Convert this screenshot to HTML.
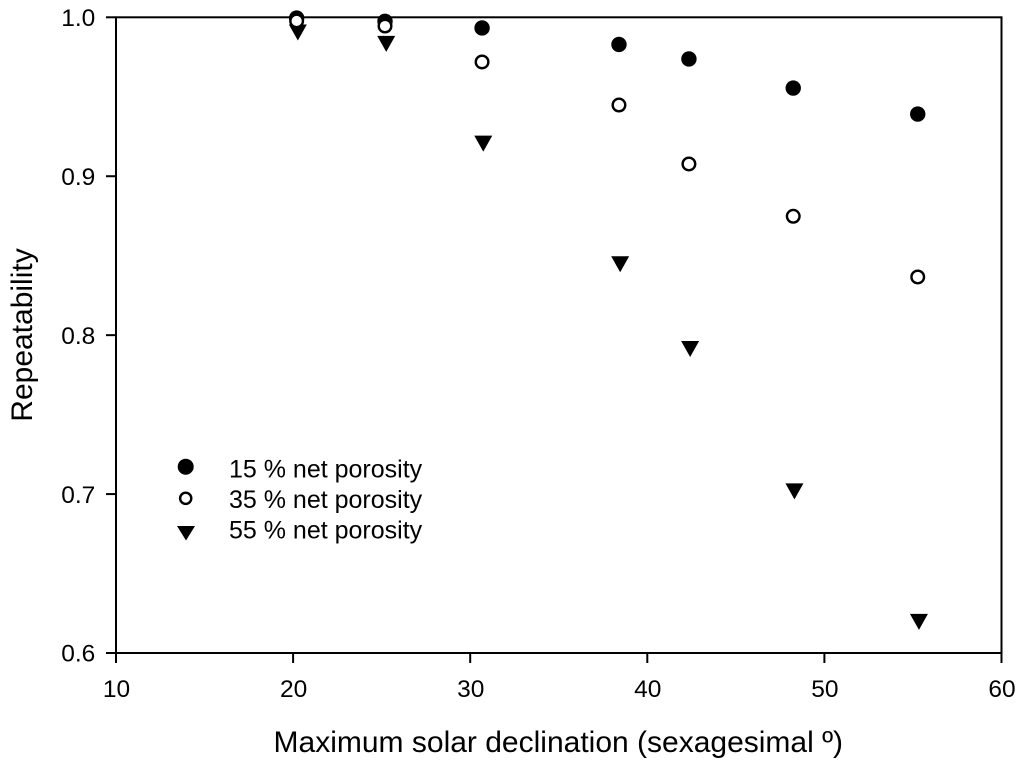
<!DOCTYPE html>
<html>
<head>
<meta charset="utf-8">
<title>Repeatability chart</title>
<style>
html,body{margin:0;padding:0;background:#fff;}
svg{display:block;}
text{font-family:"Liberation Sans",Arial,sans-serif;fill:#000;}
</style>
</head>
<body>
<svg id="chart" width="1024" height="766" viewBox="0 0 1024 766" xmlns="http://www.w3.org/2000/svg"></svg>
<script>
const declinations = [20.2, 25.19, 30.67, 38.4, 42.35, 48.24, 55.27];
const porosity15 = [0.9995, 0.9975, 0.9933, 0.9829, 0.9738, 0.9555, 0.9391];
const porosity35 = [0.9977, 0.9945, 0.9719, 0.9448, 0.9077, 0.8748, 0.8366];
const porosity55 = [0.9904, 0.9833, 0.9205, 0.8446, 0.7913, 0.7017, 0.6196];
const xTicks = [10, 20, 30, 40, 50, 60];
const yTicks = [0.6, 0.7, 0.8, 0.9, 1.0];
const legendLabels = ["15 % net porosity", "35 % net porosity", "55 % net porosity"];

const NS = "http://www.w3.org/2000/svg";
const svg = document.getElementById("chart");
const L = 116, R = 1001.5, T = 17.3, B = 653;
function xScale(v){ return L + (v - 10) / 50 * (R - L); }
function yScale(v){ return B - (v - 0.6) / 0.4 * (B - T); }
function make(tag, attrs, parent){
  const el = document.createElementNS(NS, tag);
  for (const k in attrs) el.setAttribute(k, attrs[k]);
  (parent || svg).appendChild(el);
  return el;
}
function circleFilled(x, y, parent){
  return make("circle", {cx:x, cy:y, r:7.7, fill:"#000"}, parent);
}
function circleOpen(x, y, r, parent){
  return make("circle", {cx:x, cy:y, r:r, fill:"#fff", stroke:"#000", "stroke-width":2.4}, parent);
}
function triangle(x, y, parent){
  const cx = x + 1.2;
  const pts = [[cx-9,y-8],[cx+9,y-8],[cx,y+8]].map(p => p.join(",")).join(" ");
  return make("polygon", {points:pts, fill:"#000"}, parent);
}

const frame = make("rect", {x:L, y:T, width:R-L, height:B-T, fill:"none", stroke:"#000", "stroke-width":2});



const xAxis = make("g", {});


xTicks.forEach(function(t){
  const x = xScale(t);
  const tick = make("line", {x1:x, x2:x, y1:B, y2:B+10, stroke:"#000", "stroke-width":2}, xAxis);
  
  
  const lab = make("text", {x:x+0.5, y:697, "text-anchor":"middle", "font-size":24.5}, xAxis);
  
  
  lab.textContent = String(t);
});

const yAxis = make("g", {});


yTicks.forEach(function(t){
  const y = yScale(t);
  const tick = make("line", {x1:L-10, x2:L, y1:y, y2:y, stroke:"#000", "stroke-width":2}, yAxis);
  
  
  const lab = make("text", {x:95.3, y:y+8.7, "text-anchor":"end", "font-size":24.5}, yAxis);
  
  
  lab.textContent = t.toFixed(1);
});

const xTitle = make("text", {x:558.3, y:752, "text-anchor":"middle", "font-size":30});


xTitle.textContent = "Maximum solar declination (sexagesimal º)";

const yTitle = make("text", {x:0, y:0, "text-anchor":"middle", "font-size":30, transform:"translate(32,335) rotate(-90)"});


yTitle.textContent = "Repeatability";

const series = make("g", {});


declinations.forEach(function(d, i){
  const p = circleFilled(xScale(d), yScale(porosity15[i]), series);
  
  
});
declinations.forEach(function(d, i){
  const p = triangle(xScale(d), yScale(porosity55[i]), series);
  
  
});
declinations.forEach(function(d, i){
  const p = circleOpen(xScale(d), yScale(porosity35[i]), 6.3, series);
  
  
});

const legend = make("g", {});


const m1 = make("circle", {cx:185.7, cy:466.7, r:8, fill:"#000"}, legend);


const m2 = circleOpen(185.7, 498.3, 5.6, legend);


const m3 = make("polygon", {points:"177,526 195,526 186,540.5", fill:"#000"}, legend);


legendLabels.forEach(function(label, i){
  const t = make("text", {x:229, y:477.5 + i * 30.5, "font-size":25}, legend);
  
  
  t.textContent = label;
});
</script>
</body>
</html>
